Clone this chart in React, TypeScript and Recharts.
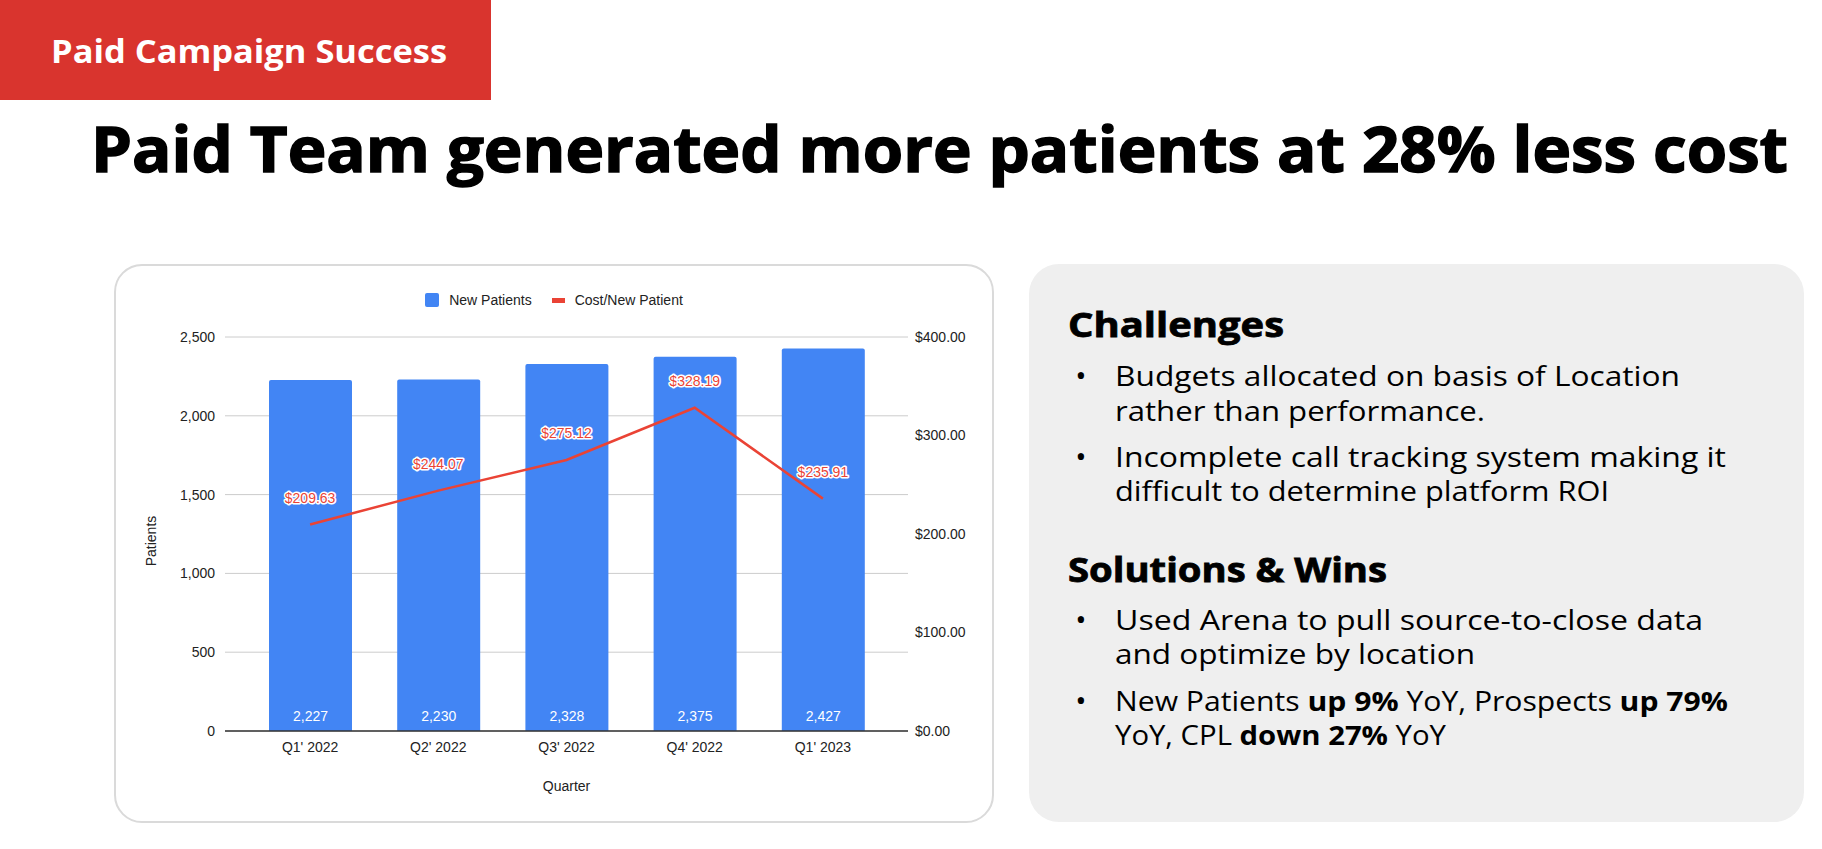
import React from 'react';
import {
  ComposedChart,
  Bar,
  Line,
  XAxis,
  YAxis,
  CartesianGrid,
  Legend,
  LabelList,
} from 'recharts';

const quarters = ["Q1' 2022", "Q2' 2022", "Q3' 2022", "Q4' 2022", "Q1' 2023"];
const newPatients = [2227, 2230, 2328, 2375, 2427];
const costPerPatient = [209.63, 244.07, 275.12, 328.19, 235.91];
const patientTicks = [0, 500, 1000, 1500, 2000, 2500];
const costTicks = [0, 100, 200, 300, 400];

const BLUE = '#4285f4';
const RED = '#ea4335';
const CHART_FONT = '"Liberation Sans", Arial, sans-serif';
const SLIDE_FONT = '"Open Sans", "Noto Sans", sans-serif';

const data = quarters.map((q, i) => ({
  quarter: q,
  patients: newPatients[i],
  cost: costPerPatient[i],
}));

function BarValueLabel(props: any) {
  const { x, y, width, height, value } = props;
  return (
    <text
      x={x + width / 2}
      y={y + height - 10}
      fill="#fff"
      fontSize={14}
      fontFamily={CHART_FONT}
      textAnchor="middle"
    >
      {Number(value).toLocaleString('en-US')}
    </text>
  );
}

function CostLabel(props: any) {
  const { x, y, value } = props;
  return (
    <text
      x={x}
      y={y - 22}
      fill={RED}
      stroke="#fff"
      strokeWidth={3}
      strokeLinejoin="round"
      paintOrder="stroke"
      fontSize={14}
      fontFamily={CHART_FONT}
      textAnchor="middle"
    >
      ${Number(value).toFixed(2)}
    </text>
  );
}

function renderLegend() {
  return (
    <div
      style={{
        display: 'flex',
        justifyContent: 'center',
        alignItems: 'center',
        height: 20,
        fontFamily: CHART_FONT,
        fontSize: 14,
        color: '#222',
      }}
    >
      <span style={{ width: 14, height: 14, background: BLUE, borderRadius: 2, marginRight: 10 }} />
      <span>New Patients</span>
      <span style={{ width: 13, height: 5, background: RED, marginLeft: 20, marginRight: 10 }} />
      <span>Cost/New Patient</span>
    </div>
  );
}

function PatientsTitle(props: any) {
  const vb = props.viewBox || { x: 0, y: 0, width: 0, height: 0 };
  const cx = vb.x + 12;
  const cy = vb.y + vb.height / 2 + 7;
  return (
    <text
      x={cx}
      y={cy}
      transform={`rotate(-90, ${cx}, ${cy})`}
      textAnchor="middle"
      fontSize={14}
      fontFamily={CHART_FONT}
      fill="#222"
    >
      Patients
    </text>
  );
}

function QuarterTitle(props: any) {
  const vb = props.viewBox || { x: 0, y: 0, width: 0, height: 0 };
  return (
    <text
      x={vb.x + vb.width / 2}
      y={vb.y + 60}
      textAnchor="middle"
      fontSize={14}
      fontFamily={CHART_FONT}
      fill="#222"
    >
      Quarter
    </text>
  );
}

// right panel lines: text pieces, start x, baseline, right edge
type Piece = { t: string; b?: boolean };
const panelLines: { pieces: Piece[]; x: number; y: number; end: number; size: number; weight: number }[] = [
  { pieces: [{ t: 'Challenges' }], x: 1068, y: 337, end: 1284, size: 34, weight: 700 },
  { pieces: [{ t: 'Budgets allocated on basis of Location' }], x: 1115, y: 386, end: 1680, size: 27, weight: 400 },
  { pieces: [{ t: 'rather than performance.' }], x: 1115, y: 421, end: 1485, size: 27, weight: 400 },
  { pieces: [{ t: 'Incomplete call tracking system making it' }], x: 1115, y: 467, end: 1726, size: 27, weight: 400 },
  { pieces: [{ t: 'difficult to determine platform ROI' }], x: 1115, y: 501, end: 1609, size: 27, weight: 400 },
  { pieces: [{ t: 'Solutions & Wins' }], x: 1068, y: 582, end: 1387, size: 34, weight: 700 },
  { pieces: [{ t: 'Used Arena to pull source-to-close data' }], x: 1115, y: 630, end: 1703, size: 27, weight: 400 },
  { pieces: [{ t: 'and optimize by location' }], x: 1115, y: 664, end: 1475, size: 27, weight: 400 },
  {
    pieces: [
      { t: 'New Patients ' },
      { t: 'up 9%', b: true },
      { t: ' YoY, Prospects ' },
      { t: 'up 79%', b: true },
    ],
    x: 1115, y: 711, end: 1728, size: 27, weight: 400,
  },
  {
    pieces: [{ t: 'YoY, CPL ' }, { t: 'down 27%', b: true }, { t: ' YoY' }],
    x: 1115, y: 745, end: 1446, size: 27, weight: 400,
  },
];
const bulletYs = [386, 467, 630, 711];

export default function App() {
  return (
    <div style={{ position: 'absolute', left: 0, top: 0, width: 1822, height: 849, background: '#fff', overflow: 'hidden' }}>
      {/* banner */}
      <div style={{ position: 'absolute', left: 0, top: 0, width: 491, height: 100, background: '#d9342e' }} />
      {/* card + panel backgrounds */}
      <div
        style={{
          position: 'absolute',
          left: 114,
          top: 264,
          width: 880,
          height: 559,
          boxSizing: 'border-box',
          border: '2px solid #dadada',
          borderRadius: 28,
        }}
      />
      <div
        style={{
          position: 'absolute',
          left: 1029,
          top: 264,
          width: 775,
          height: 558,
          background: '#efefef',
          borderRadius: 30,
        }}
      />
      <svg width={1822} height={849} style={{ position: 'absolute', left: 0, top: 0 }}>
        <text
          x={51}
          y={63}
          fill="#fff"
          fontFamily={SLIDE_FONT}
          fontWeight={700}
          fontSize={33}
          textLength={396}
          lengthAdjust="spacingAndGlyphs"
        >
          Paid Campaign Success
        </text>
        <text
          x={91}
          y={172}
          fill="#000"
          stroke="#000"
          strokeWidth={1.5}
          fontFamily={SLIDE_FONT}
          fontWeight={700}
          fontSize={63}
          textLength={1697}
          lengthAdjust="spacingAndGlyphs"
        >
          Paid Team generated more patients at 28% less cost
        </text>
        {panelLines.map((ln, i) => (
          <text
            key={i}
            x={ln.x}
            y={ln.y}
            fill="#000"
            stroke={ln.weight === 700 ? '#000' : undefined}
            strokeWidth={ln.weight === 700 ? 0.8 : undefined}
            fontFamily={SLIDE_FONT}
            fontWeight={ln.weight}
            fontSize={ln.size}
            textLength={ln.end - ln.x}
            lengthAdjust="spacingAndGlyphs"
          >
            {ln.pieces.map((p, j) => (
              <tspan key={j} fontWeight={p.b ? 700 : undefined}>
                {p.t}
              </tspan>
            ))}
          </text>
        ))}
        {bulletYs.map((y, i) => (
          <text key={i} x={1081} y={y} textAnchor="middle" fontFamily={SLIDE_FONT} fontSize={30} fill="#000">
            •
          </text>
        ))}
      </svg>
      <div style={{ position: 'absolute', left: 114, top: 264 }}>
        <ComposedChart
          width={880}
          height={559}
          data={data}
          margin={{ top: 53, right: 6, bottom: 22, left: 30 }}
          style={{ fontFamily: CHART_FONT }}
        >
          <CartesianGrid yAxisId="left" vertical={false} stroke="#cccccc" />
          <Legend verticalAlign="top" content={renderLegend} wrapperStyle={{ top: 26, left: 0, width: 880 }} />
          <XAxis
            dataKey="quarter"
            padding={{ left: 21, right: 21 }}
            height={70}
            tickLine={false}
            tickSize={0}
            tickMargin={11}
            axisLine={{ stroke: '#333', strokeWidth: 1.5 }}
            tick={{ fill: '#222', fontSize: 14 }}
            label={{ content: QuarterTitle }}
          />
          <YAxis
            yAxisId="left"
            width={81}
            domain={[0, 2500]}
            ticks={patientTicks}
            tickFormatter={(v: number) => v.toLocaleString('en-US')}
            axisLine={false}
            tickLine={false}
            tickSize={0}
            tickMargin={10}
            tick={{ fill: '#222', fontSize: 14 }}
            label={{ content: PatientsTitle }}
          />
          <YAxis
            yAxisId="right"
            orientation="right"
            width={80}
            domain={[0, 400]}
            ticks={costTicks}
            tickFormatter={(v: number) => `$${v.toFixed(2)}`}
            axisLine={false}
            tickLine={false}
            tickSize={0}
            tickMargin={7}
            tick={{ fill: '#222', fontSize: 14 }}
          />
          <Bar
            yAxisId="left"
            dataKey="patients"
            name="New Patients"
            fill={BLUE}
            barSize={83}
            radius={[2, 2, 0, 0]}
            isAnimationActive={false}
          >
            <LabelList dataKey="patients" content={BarValueLabel} />
          </Bar>
          <Line
            yAxisId="right"
            dataKey="cost"
            name="Cost/New Patient"
            type="linear"
            stroke={RED}
            strokeWidth={2.5}
            dot={false}
            activeDot={false}
            isAnimationActive={false}
          >
            <LabelList dataKey="cost" content={CostLabel} />
          </Line>
        </ComposedChart>
      </div>
    </div>
  );
}
